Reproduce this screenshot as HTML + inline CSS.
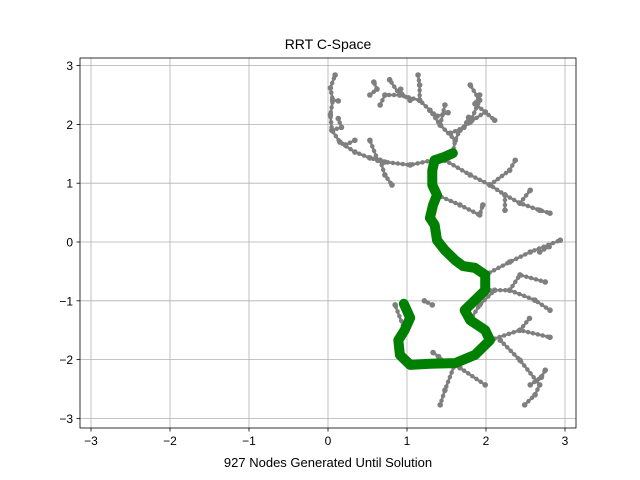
<!DOCTYPE html>
<html><head><meta charset="utf-8"><style>
body{margin:0;background:#fff}
svg{display:block;font-family:"Liberation Sans","DejaVu Sans",sans-serif}
</style></head><body>
<svg id="chart" width="640" height="480" viewBox="0 0 640 480">
<text x="328" y="49" text-anchor="middle" font-size="14">RRT C-Space</text>
<text x="328" y="467" text-anchor="middle" font-size="13">927 Nodes Generated Until Solution</text>
<g id="grid"></g><g id="tree"></g><g id="path"></g><g id="axes"></g>
</svg>
<script>
const xTicks=[-3,-2,-1,0,1,2,3];
const yTicks=[-3,-2,-1,0,1,2,3];
const pathX=[0.96,1.04,0.97,0.89,0.91,1.04,1.29,1.61,1.86,2.05,1.99,1.80,1.73,1.86,1.99,1.99,1.86,1.71,1.61,1.48,1.38,1.35,1.29,1.33,1.38,1.32,1.32,1.35,1.48,1.58];
const pathY=[-1.05,-1.29,-1.50,-1.67,-1.92,-2.09,-2.07,-2.06,-1.92,-1.67,-1.50,-1.33,-1.16,-0.99,-0.82,-0.56,-0.44,-0.41,-0.31,-0.14,0.03,0.29,0.41,0.63,0.80,0.97,1.22,1.39,1.45,1.51];
const branchX=[[1.32,1.04,0.72,0.53,0.34,0.15,0.05,0.03,0.06,0.03,0.09],[0.66,0.72,0.81],[0.63,0.53],[0.22,0.34],
[1.58,1.61,1.67,1.80,1.99,2.11],[1.80,1.92,1.80],[1.61,1.42,1.29,1.16,0.91,0.72,0.66],[1.16,1.16,1.14],[1.42,1.48],[0.91,0.78],
[1.48,1.80,2.05,2.24,2.43,2.68,2.81],[2.05,2.30,2.37],[2.24,2.24],[2.43,2.56],[1.38,1.67,1.92,1.96],
[1.99,2.30,2.56,2.94],[1.99,2.30,2.62,2.81],[2.30,2.43,2.75],[2.05,2.43,2.81],[2.18,2.43,2.68,2.62,2.49],
[1.61,1.48,1.42],[1.67,1.99],[0.97,0.85],[1.80,1.92,2.11],
[0.05,0.17,0.13],[0.06,0.13],[1.29,1.38,1.52],[1.99,1.86,1.92],[1.04,0.91,0.92],[0.53,0.62,0.58],[1.55,1.72,1.78],[2.56,2.70,2.75],[2.43,2.55],[1.32,1.22],[1.48,1.40,1.33],[2.68,2.80]];
const branchY=[[1.39,1.31,1.36,1.43,1.53,1.70,1.90,2.16,2.41,2.62,2.84],[1.39,1.14,0.97],[1.39,1.73],[1.65,1.73],
[1.51,1.73,1.90,2.04,2.21,2.07],[2.04,2.41,2.67],[1.73,1.99,2.24,2.41,2.50,2.50,2.33],[2.41,2.67,2.84],[1.99,2.33],[2.50,2.76],
[1.39,1.14,0.97,0.80,0.66,0.54,0.49],[0.97,1.22,1.39],[0.80,0.54],[0.66,0.88],[0.80,0.63,0.46,0.63],
[-0.56,-0.34,-0.17,0.03],[-0.82,-0.82,-0.99,-1.16],[-0.82,-0.56,-0.68],[-1.67,-1.50,-1.62],[-1.67,-2.01,-2.43,-2.60,-2.77],
[-2.06,-2.52,-2.77],[-2.14,-2.43],[-1.50,-1.07],[-1.33,-1.07,-0.82],
[1.90,1.95,2.10],[2.41,2.40],[2.24,2.14,2.20],[2.21,2.35,2.50],[2.41,2.55,2.60],[2.50,2.60,2.72],[1.85,1.95,2.12],[-2.43,-2.30,-2.18],[-1.50,-1.30],[-1.07,-1.00],[-2.06,-1.95,-1.88],[-0.17,-0.08]];
const L=80,R=576,T=58,B=428;
const sx=v=>328+v*79, sy=v=>242-v*58.8;
const NS='http://www.w3.org/2000/svg';
function mk(tag,attrs,parent){const e=document.createElementNS(NS,tag);for(const k in attrs)e.setAttribute(k,attrs[k]);parent.appendChild(e);return e;}
const grid=document.getElementById('grid'),axes=document.getElementById('axes'),tree=document.getElementById('tree'),pathG=document.getElementById('path');
xTicks.forEach(t=>{
 const g=mk('line',{x1:sx(t),x2:sx(t),y1:T,y2:B,stroke:'#b0b0b0','stroke-width':0.8},grid);
 
 
 const tk=mk('line',{x1:sx(t),x2:sx(t),y1:B,y2:B+3.5,stroke:'#000','stroke-width':0.8},axes);
 
 
 const lb=mk('text',{x:sx(t),y:B+17,'text-anchor':'middle','font-size':12},axes);
 lb.textContent=(t<0?'\u2212'+(-t):t);
 
 
});
yTicks.forEach(t=>{
 const g=mk('line',{x1:L,x2:R,y1:sy(t),y2:sy(t),stroke:'#b0b0b0','stroke-width':0.8},grid);
 
 
 const tk=mk('line',{x1:L-3.5,x2:L,y1:sy(t),y2:sy(t),stroke:'#000','stroke-width':0.8},axes);
 
 
 const lb=mk('text',{x:L-7,y:sy(t)+4.5,'text-anchor':'end','font-size':12},axes);
 lb.textContent=(t<0?'\u2212'+(-t):t);
 
 
});
const frame=mk('rect',{x:L,y:T,width:R-L,height:B-T,fill:'none',stroke:'#000','stroke-width':0.8},axes);


branchX.forEach((bx,i)=>{
 const by=branchY[i];
 const pts=bx.map((x,j)=>sx(x)+','+sy(by[j])).join(' ');
 const pl=mk('polyline',{points:pts,fill:'none',stroke:'#7f7f7f','stroke-width':4.5,'stroke-dasharray':'0 5','stroke-linecap':'round','stroke-linejoin':'round'},tree);
 
 
 const pl2=mk('polyline',{points:pts,fill:'none',stroke:'#7f7f7f','stroke-width':2.5,'stroke-linejoin':'round'},tree);
 
 
 bx.forEach((x,j)=>{
  const c=mk('circle',{cx:sx(x),cy:sy(by[j]),r:2.8,fill:'#7f7f7f'},tree);
  
  
 });
});
const pp=mk('polyline',{points:pathX.map((x,j)=>sx(x)+','+sy(pathY[j])).join(' '),fill:'none',stroke:'#008000','stroke-width':10,'stroke-linecap':'round','stroke-linejoin':'round'},pathG);


</script>
</body></html>
